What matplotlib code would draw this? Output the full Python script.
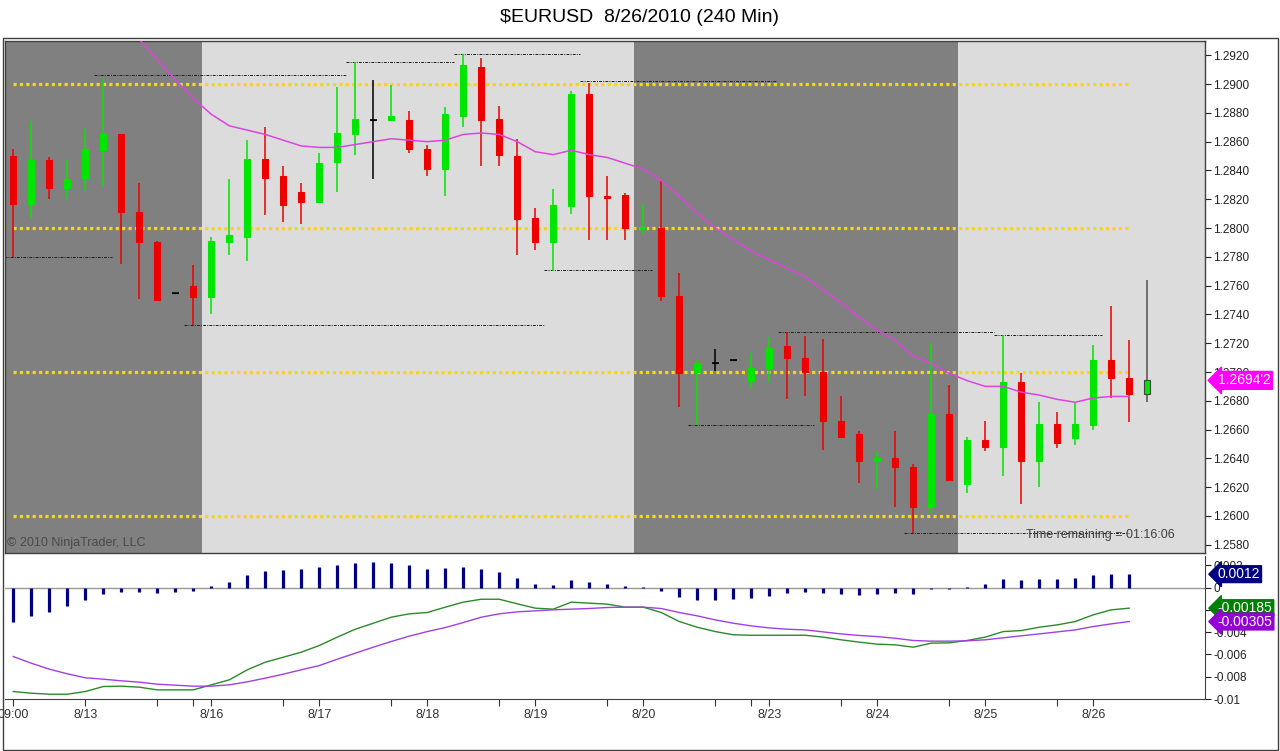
import numpy as np
import matplotlib.pyplot as plt
from matplotlib.patches import Rectangle
from matplotlib.transforms import blended_transform_factory

plt.rcParams['font.family'] = ['Liberation Sans', 'DejaVu Sans']

# 240 min bars, 8/12 09:00 .. 8/26
opens = [1.2850, 1.2817, 1.2847, 1.2828, 1.2835, 1.2854, 1.2865, 1.2811, 1.2790, 1.2755,
         1.2760, 1.2752, 1.2790, 1.2794, 1.2848, 1.2836, 1.2825, 1.2818, 1.2846, 1.2865,
         1.2875, 1.2875, 1.2875, 1.2855, 1.2841, 1.2878, 1.2912, 1.2876, 1.2850, 1.2807,
         1.2790, 1.2815, 1.2893, 1.2822, 1.2823, 1.2799, 1.2800, 1.2753, 1.2700, 1.2706,
         1.2708, 1.2694, 1.2703, 1.2718, 1.2710, 1.2700, 1.2666, 1.2657, 1.2638, 1.2640,
         1.2634, 1.2606, 1.2671, 1.2622, 1.2653, 1.2648, 1.2693, 1.2638, 1.2664, 1.2654,
         1.2663, 1.2708, 1.2696, 1.2685]
highs = [1.2855, 1.2874, 1.2849, 1.2847, 1.2869, 1.2904, 1.2865, 1.2831, 1.2791, 1.2755,
         1.2774, 1.2794, 1.2834, 1.2861, 1.2870, 1.2843, 1.2831, 1.2852, 1.2898, 1.2915,
         1.2903, 1.2899, 1.2881, 1.2858, 1.2884, 1.2921, 1.2918, 1.2885, 1.2862, 1.2814,
         1.2827, 1.2895, 1.2901, 1.2836, 1.2824, 1.2817, 1.2833, 1.2769, 1.2708, 1.2716,
         1.2708, 1.2713, 1.2724, 1.2728, 1.2725, 1.2723, 1.2683, 1.2659, 1.2645, 1.2659,
         1.2636, 1.2720, 1.2691, 1.2655, 1.2666, 1.2726, 1.2699, 1.2679, 1.2672, 1.2679,
         1.2719, 1.2746, 1.2722, 1.2764]
lows = [1.2780, 1.2807, 1.2820, 1.2820, 1.2826, 1.2829, 1.2775, 1.2751, 1.2750, 1.2755,
        1.2733, 1.2740, 1.2781, 1.2777, 1.2809, 1.2804, 1.2803, 1.2818, 1.2825, 1.2851,
        1.2834, 1.2874, 1.2852, 1.2836, 1.2822, 1.2870, 1.2843, 1.2843, 1.2781, 1.2785,
        1.2770, 1.2810, 1.2792, 1.2792, 1.2792, 1.2796, 1.2749, 1.2676, 1.2663, 1.2701,
        1.2708, 1.2689, 1.2693, 1.2681, 1.2683, 1.2646, 1.2655, 1.2623, 1.2619, 1.2606,
        1.2588, 1.2602, 1.2624, 1.2616, 1.2645, 1.2628, 1.2608, 1.2620, 1.2647, 1.2649,
        1.2660, 1.2682, 1.2665, 1.2679]
closes = [1.2817, 1.2847, 1.2828, 1.2834, 1.2855, 1.2865, 1.2811, 1.2790, 1.2750, 1.2755,
          1.2752, 1.2791, 1.2795, 1.2848, 1.2835, 1.2816, 1.2818, 1.2845, 1.2866, 1.2876,
          1.2875, 1.2878, 1.2855, 1.2841, 1.2879, 1.2913, 1.2875, 1.2851, 1.2806, 1.2790,
          1.2816, 1.2893, 1.2822, 1.2821, 1.2800, 1.2801, 1.2753, 1.2699, 1.2706, 1.2706,
          1.2708, 1.2703, 1.2717, 1.2710, 1.2700, 1.2666, 1.2655, 1.2638, 1.2640, 1.2634,
          1.2606, 1.2671, 1.2625, 1.2653, 1.2648, 1.2693, 1.2638, 1.2664, 1.2651, 1.2664,
          1.2708, 1.2696, 1.2685, 1.26942]

nan = np.nan
sma = [nan, nan, nan, nan, nan, nan, 1.2946, 1.2931, 1.2917, 1.2903,
       1.2890, 1.2879, 1.2871, 1.2868, 1.2865, 1.2861, 1.2857, 1.2856, 1.2856, 1.2858,
       1.2860, 1.2862, 1.2861, 1.2860, 1.2861, 1.2865, 1.2866, 1.2865, 1.2860, 1.2853,
       1.2851, 1.2854, 1.2851, 1.2849, 1.2845, 1.2841, 1.2833, 1.2822, 1.2810, 1.2800,
       1.2792, 1.2784, 1.2778, 1.2772, 1.2766, 1.2757, 1.2748, 1.2738, 1.2729, 1.2722,
       1.2711, 1.2706, 1.2699, 1.2694, 1.2690, 1.2690, 1.2686, 1.2684, 1.2681, 1.2679,
       1.2682, 1.2683, 1.2683, nan]

# MACD panel (last closed bar = 62)
hist = [-0.00305, -0.00254, -0.00215, -0.00164, -0.00111, -0.00057, -0.00036, -0.00039, -0.00045, -0.00039,
        -0.00027, 0.00015, 0.00048, 0.00114, 0.00149, 0.00158, 0.00167, 0.00185, 0.00203, 0.00221,
        0.00230, 0.00221, 0.00203, 0.00167, 0.00176, 0.00185, 0.00167, 0.00141, 0.00087, 0.00033,
        0.00024, 0.00069, 0.00051, 0.00033, 0.00015, 0.00003, -0.00027, -0.00081, -0.00111, -0.00111,
        -0.00099, -0.00090, -0.00072, -0.00051, -0.00039, -0.00045, -0.00054, -0.00063, -0.00054, -0.00045,
        -0.00054, -0.00012, -0.00012, 0.00009, 0.00033, 0.00078, 0.00069, 0.00078, 0.00078, 0.00087,
        0.00110, 0.00120, 0.0012]
macd = [-0.00933, -0.00948, -0.00957, -0.00957, -0.00933, -0.00888, -0.00885, -0.00894, -0.00918, -0.00918,
        -0.00918, -0.00873, -0.00828, -0.00738, -0.00670, -0.00625, -0.00580, -0.00520, -0.00445, -0.00374,
        -0.00320, -0.00266, -0.00236, -0.00224, -0.00176, -0.00131, -0.00105, -0.00105, -0.00146, -0.00185,
        -0.00194, -0.00131, -0.00140, -0.00149, -0.00176, -0.00176, -0.00224, -0.00305, -0.00356, -0.00395,
        -0.00424, -0.00428, -0.00428, -0.00428, -0.00428, -0.00445, -0.00469, -0.00490, -0.00508, -0.00514,
        -0.00535, -0.00499, -0.00496, -0.00475, -0.00445, -0.00395, -0.00386, -0.00356, -0.00335, -0.00305,
        -0.00245, -0.00200, -0.00185]
signal = [-0.00619, -0.00679, -0.00732, -0.00774, -0.00810, -0.00822, -0.00837, -0.00849, -0.00867, -0.00876,
          -0.00885, -0.00885, -0.00873, -0.00846, -0.00813, -0.00777, -0.00738, -0.00700, -0.00643, -0.00589,
          -0.00535, -0.00484, -0.00436, -0.00395, -0.00359, -0.00314, -0.00266, -0.00236, -0.00218, -0.00209,
          -0.00200, -0.00194, -0.00188, -0.00179, -0.00176, -0.00176, -0.00188, -0.00224, -0.00254, -0.00290,
          -0.00320, -0.00344, -0.00362, -0.00374, -0.00380, -0.00398, -0.00416, -0.00430, -0.00440, -0.00455,
          -0.00475, -0.00481, -0.00481, -0.00478, -0.00469, -0.00451, -0.00433, -0.00416, -0.00398, -0.00380,
          -0.00350, -0.00326, -0.00305]

# swing high/low lines: level, first bar, last bar
swing_levels = [1.2780, 1.2906, 1.2733, 1.2915, 1.2921, 1.2902, 1.2771, 1.2663, 1.2728, 1.2726, 1.2588]
swing_start = [0, 5, 10, 19, 25, 32, 30, 38, 43, 55, 50]
swing_end = [5.5, 18.5, 29.5, 24.5, 31.5, 42.4, 35.5, 44.5, 54.5, 60.5, 62]

pivot_levels = [1.2900, 1.2800, 1.2700, 1.2600]
dark_sessions = [(-1, 10.5), (34.5, 52.5)]

tick_bars = [0, 4, 8, 10, 11, 15, 17, 21, 23, 27, 29, 33, 35, 39, 41, 42, 46, 48, 52, 54, 58, 60]
tick_text = ['09:00', '8/13', '', '', '8/16', '', '8/17', '', '8/18', '', '8/19', '',
             '8/20', '', '', '8/23', '', '8/24', '', '8/25', '', '8/26']
price_ticks = np.arange(1.2580, 1.29201, 0.002)
macd_ticks = [0.002, 0, -0.002, -0.004, -0.006, -0.008, -0.01]
macd_tick_text = ['0.002', '0', '-0.002', '-0.004', '-0.006', '-0.008', '-0.01']

W, H = 1280, 751
fig = plt.figure(figsize=(W / 100, H / 100), dpi=100)


def px_box(x0, y0, x1, y1):
    return [x0 / W, 1 - y1 / H, (x1 - x0) / W, (y1 - y0) / H]


ax = fig.add_axes(px_box(5, 41, 1205, 553))
ax2 = fig.add_axes(px_box(5, 556, 1205, 699), sharex=ax)

o = np.array(opens)
h = np.array(highs)
l = np.array(lows)
c = np.array(closes)
x = np.arange(len(o))

# background sessions
ax.set_facecolor('#dcdcdc')
for a, b in dark_sessions:
    ax.axvspan(a, b, color='#808080', lw=0, zorder=0)

for lvl in pivot_levels:
    ax.hlines(lvl, 0, len(hist) - 1, colors='#ffd700', lw=2.3, linestyles=(0, (1, 1)), zorder=2)

for lvl, s, e in zip(swing_levels, swing_start, swing_end):
    ax.hlines(lvl, s - 0.5, e, colors='#202020', lw=0.7, linestyles=(0, (3, 1.2, 1, 1.2)), zorder=2)

cols = []
for oo, cc in zip(o, c):
    if cc > oo:
        cols.append('#00e600')
    elif cc < oo:
        cols.append('#ee0000')
    else:
        cols.append('black')
wick_cols = list(cols)
wick_cols[-1] = '#505050'

ax.vlines(x, l, h, colors=wick_cols, lw=1.1, zorder=3)
bars = ax.bar(x, np.abs(c - o), bottom=np.minimum(o, c), width=0.34,
              color=cols, edgecolor=cols, lw=0.8, zorder=4)
bars.patches[-1].set_edgecolor('#404040')
flat = c == o
ax.hlines(c[flat], x[flat] - 0.2, x[flat] + 0.2, colors='black', lw=1.2, zorder=4)

ax.plot(x, sma, color='#dd44dd', lw=1.1, zorder=5)

ax.set_xlim(-0.461, 66.21)
ax.set_ylim(1.25743, 1.29299)
ax.yaxis.tick_right()
ax.set_yticks(price_ticks)
ax.set_yticklabels(['%.4f' % v for v in price_ticks])
ax.tick_params(axis='y', direction='out', length=4, labelsize=8.5, colors='#222222', pad=2)
ax.tick_params(axis='x', bottom=False, labelbottom=False)
for sp in ax.spines.values():
    sp.set_color('#404040')
    sp.set_linewidth(1)

ax.text(0.002, 0.019, '\u00a9 2010 NinjaTrader, LLC', transform=ax.transAxes,
        fontsize=9, color='#4a4a4a', va='center', ha='left')
ax.text(0.975, 0.035, 'Time remaining = 01:16:06', transform=ax.transAxes,
        fontsize=9, color='#404040', va='center', ha='right', zorder=6)

last = '%.5f' % c[-1]
last = last[:-1] + "'" + last[-1]
tr = blended_transform_factory(ax.transAxes, ax.transData)
ax.text(1.0105, c[-1], last, transform=tr, color='white', fontsize=10, va='center', ha='left',
        clip_on=False, zorder=10,
        bbox=dict(boxstyle='larrow,pad=0.14', fc='#ff00ff', ec='#ff00ff'))

# MACD panel
ax2.set_facecolor('white')
ax2.axhline(0, color='#999999', lw=1, zorder=1)
xm = np.arange(len(hist))
ax2.vlines(xm, 0, hist, colors='#000080', lw=2.3, zorder=2)
ax2.plot(np.arange(len(macd)), macd, color='#2a8a2a', lw=1, zorder=3)
ax2.plot(np.arange(len(signal)), signal, color='#a040e0', lw=1, zorder=3)
ax2.set_ylim(-0.01, 0.00283)
ax2.yaxis.tick_right()
ax2.set_yticks(macd_ticks)
ax2.set_yticklabels(macd_tick_text)
ax2.tick_params(axis='y', direction='out', length=4, labelsize=8.5, colors='#222222', pad=2)
ax2.set_xticks(tick_bars)
ax2.set_xticklabels(tick_text)
ax2.tick_params(axis='x', direction='out', length=5, labelsize=9, colors='#333333', pad=2)
ax2.spines['top'].set_visible(False)
ax2.spines['left'].set_visible(False)
ax2.spines['bottom'].set_color('#404040')
ax2.spines['right'].set_color('#404040')

tr2 = blended_transform_factory(ax2.transAxes, ax2.transData)
for val, txt, col in [(hist[-1], '%.4f' % hist[-1], '#000080'),
                      (macd[-1], '%.5f' % macd[-1], '#008000'),
                      (signal[-1], '%.5f' % signal[-1], '#9400d3')]:
    ax2.text(1.0105, val, txt, transform=tr2, color='white', fontsize=10, va='center', ha='left',
             clip_on=False, zorder=10,
             bbox=dict(boxstyle='larrow,pad=0.1', fc=col, ec=col))

fig.text(0.5, 1 - 18 / H, r'\$EURUSD  8/26/2010 (240 Min)', ha='center', va='center', fontsize=14)
fig.add_artist(Rectangle((3 / W, 1 - 750 / H), 1275 / W, 712 / H, transform=fig.transFigure,
                         fill=False, ec='#404040', lw=1))

fig.savefig('out.png', dpi=100)
